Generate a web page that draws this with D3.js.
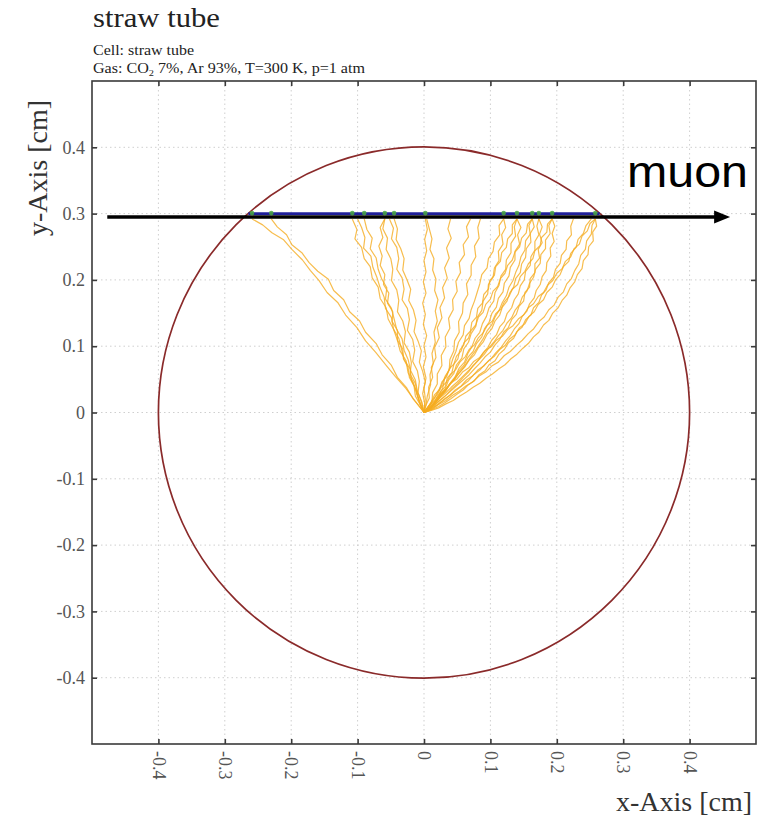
<!DOCTYPE html>
<html>
<head>
<meta charset="utf-8">
<script src="https://cdn.jsdelivr.net/npm/d3@7"></script>
<style>
  html, body { margin: 0; padding: 0; background: #fff; }
  svg { display: block; }
  text { font-family: "Liberation Serif", "Times New Roman", serif; }
</style>
</head>
<body>
<svg id="chart" width="757" height="822"></svg>
<script>
// ---- data (all coordinates in cm) ----
const xTicks = [-0.4, -0.3, -0.2, -0.1, 0, 0.1, 0.2, 0.3, 0.4];
const xTickLabels = ["-0.4", "-0.3", "-0.2", "-0.1", "0", "0.1", "0.2", "0.3", "0.4"];
const yTicks = [-0.4, -0.3, -0.2, -0.1, 0, 0.1, 0.2, 0.3, 0.4];
const yTickLabels = ["-0.4", "-0.3", "-0.2", "-0.1", "0", "0.1", "0.2", "0.3", "0.4"];

const tubeRadius = 0.4;
const wirePosition = [0, 0];

// muon track inside the tube and the arrow showing its direction
const trackY = 0.3;
const trackX = [-0.2646, 0.2646];
const muonArrowY = 0.2949;
const muonArrowX = [-0.477, 0.461];

// ionisation clusters along the track
const clusterX = [-0.259, -0.230, -0.108, -0.090, -0.059, -0.045, 0.002,
                  0.120, 0.140, 0.163, 0.173, 0.193, 0.258];

// electron drift lines, "x,y" points from the track down to the wire
const driftPaths = [
  "-0.259,0.292 -0.243,0.283 -0.229,0.271 -0.212,0.261 -0.199,0.246 -0.183,0.230 -0.171,0.214 -0.158,0.199 -0.146,0.181 -0.130,0.166 -0.118,0.147 -0.101,0.128 -0.088,0.108 -0.073,0.091 -0.057,0.071 -0.043,0.054 -0.027,0.036 -0.014,0.018 0,0",
  "-0.230,0.292 -0.221,0.280 -0.207,0.268 -0.199,0.253 -0.184,0.241 -0.173,0.226 -0.160,0.213 -0.144,0.201 -0.136,0.184 -0.121,0.170 -0.112,0.152 -0.097,0.138 -0.088,0.121 -0.072,0.104 -0.063,0.087 -0.049,0.071 -0.040,0.053 -0.026,0.037 -0.016,0.020 -0.006,0.008 0,0",
  "-0.108,0.292 -0.101,0.276 -0.104,0.262 -0.094,0.249 -0.090,0.232 -0.081,0.220 -0.078,0.203 -0.069,0.189 -0.066,0.172 -0.057,0.158 -0.054,0.141 -0.046,0.126 -0.040,0.109 -0.036,0.093 -0.027,0.078 -0.024,0.060 -0.016,0.045 -0.011,0.028 -0.005,0.013 0,0",
  "-0.100,0.292 -0.094,0.279 -0.089,0.264 -0.091,0.248 -0.080,0.236 -0.077,0.219 -0.071,0.204 -0.066,0.188 -0.060,0.174 -0.058,0.157 -0.049,0.143 -0.046,0.126 -0.038,0.112 -0.034,0.096 -0.030,0.080 -0.021,0.066 -0.019,0.049 -0.012,0.034 -0.008,0.018 0,0",
  "-0.090,0.292 -0.086,0.276 -0.078,0.263 -0.081,0.247 -0.072,0.233 -0.069,0.216 -0.064,0.202 -0.056,0.188 -0.058,0.171 -0.049,0.157 -0.045,0.141 -0.041,0.125 -0.033,0.111 -0.030,0.094 -0.024,0.080 -0.020,0.063 -0.013,0.049 -0.010,0.032 -0.004,0.016 0,0",
  "-0.059,0.292 -0.062,0.277 -0.055,0.263 -0.057,0.246 -0.050,0.232 -0.047,0.216 -0.049,0.199 -0.041,0.185 -0.038,0.169 -0.040,0.152 -0.032,0.138 -0.028,0.122 -0.030,0.105 -0.022,0.091 -0.019,0.075 -0.021,0.058 -0.013,0.044 -0.010,0.028 -0.006,0.013 0,0",
  "-0.052,0.292 -0.046,0.278 -0.049,0.262 -0.041,0.249 -0.038,0.232 -0.041,0.216 -0.033,0.203 -0.030,0.186 -0.033,0.170 -0.025,0.157 -0.022,0.140 -0.025,0.124 -0.017,0.110 -0.014,0.094 -0.017,0.077 -0.010,0.063 -0.007,0.047 -0.009,0.030 -0.003,0.015 0,0",
  "-0.045,0.292 -0.040,0.277 -0.042,0.261 -0.035,0.247 -0.030,0.232 -0.032,0.215 -0.026,0.201 -0.020,0.186 -0.023,0.169 -0.016,0.155 -0.012,0.139 -0.015,0.122 -0.009,0.108 -0.004,0.093 -0.007,0.076 -0.002,0.062 0.002,0.046 -0.002,0.029 0.001,0.014 0,0",
  "0.002,0.292 0.005,0.276 0.001,0.261 0.004,0.244 0.000,0.229 0.003,0.212 -0.001,0.197 0.003,0.180 -0.002,0.165 0.002,0.148 -0.001,0.133 0.004,0.116 0.000,0.101 0.003,0.084 -0.001,0.069 0.003,0.052 0.000,0.037 0.002,0.020 0,0",
  "0.004,0.292 0.008,0.277 0.012,0.262 0.009,0.246 0.015,0.232 0.013,0.215 0.018,0.201 0.016,0.184 0.021,0.170 0.017,0.153 0.020,0.138 0.015,0.121 0.017,0.106 0.012,0.089 0.014,0.074 0.009,0.057 0.010,0.042 0.005,0.025 0.003,0.011 0,0",
  "0.040,0.292 0.036,0.277 0.041,0.263 0.034,0.248 0.038,0.233 0.031,0.218 0.035,0.203 0.028,0.188 0.031,0.173 0.024,0.158 0.027,0.143 0.020,0.128 0.023,0.113 0.016,0.098 0.018,0.083 0.011,0.068 0.013,0.053 0.007,0.038 0.008,0.022 0.002,0.009 0,0",
  "0.070,0.292 0.064,0.280 0.067,0.265 0.059,0.253 0.061,0.238 0.053,0.226 0.055,0.211 0.048,0.198 0.050,0.183 0.043,0.170 0.044,0.155 0.037,0.142 0.039,0.127 0.032,0.114 0.033,0.099 0.026,0.086 0.027,0.071 0.020,0.058 0.020,0.043 0.013,0.030 0.012,0.016 0.004,0.006 0,0",
  "0.085,0.292 0.081,0.279 0.083,0.263 0.076,0.251 0.078,0.235 0.071,0.222 0.071,0.207 0.064,0.194 0.066,0.178 0.059,0.165 0.058,0.150 0.052,0.137 0.053,0.121 0.046,0.108 0.045,0.093 0.039,0.080 0.038,0.064 0.031,0.051 0.028,0.036 0.020,0.024 0.014,0.012 0.005,0.004 0,0",
  "0.120,0.292 0.113,0.282 0.114,0.268 0.106,0.257 0.104,0.243 0.097,0.232 0.095,0.218 0.087,0.208 0.084,0.194 0.080,0.181 0.076,0.168 0.071,0.155 0.068,0.142 0.061,0.131 0.059,0.117 0.052,0.106 0.048,0.092 0.043,0.080 0.039,0.066 0.032,0.055 0.027,0.042 0.020,0.030 0.014,0.018 0.007,0.008 0,0",
  "0.120,0.292 0.123,0.279 0.117,0.268 0.119,0.254 0.112,0.243 0.113,0.229 0.106,0.218 0.104,0.204 0.097,0.193 0.096,0.179 0.089,0.168 0.087,0.154 0.080,0.143 0.078,0.130 0.071,0.119 0.067,0.106 0.060,0.096 0.057,0.082 0.049,0.072 0.045,0.059 0.037,0.049 0.032,0.036 0.024,0.026 0.017,0.015 0.008,0.006 0,0",
  "0.140,0.292 0.136,0.280 0.138,0.266 0.131,0.255 0.131,0.241 0.124,0.230 0.123,0.216 0.116,0.206 0.113,0.192 0.107,0.181 0.105,0.168 0.098,0.158 0.094,0.145 0.088,0.134 0.084,0.121 0.077,0.112 0.072,0.099 0.066,0.089 0.061,0.076 0.053,0.067 0.047,0.054 0.040,0.045 0.033,0.033 0.024,0.023 0.016,0.013 0.007,0.005 0,0",
  "0.140,0.292 0.146,0.279 0.141,0.268 0.144,0.254 0.137,0.243 0.137,0.230 0.130,0.219 0.128,0.206 0.121,0.195 0.119,0.182 0.112,0.172 0.109,0.159 0.102,0.149 0.098,0.136 0.091,0.126 0.087,0.114 0.079,0.104 0.074,0.092 0.066,0.083 0.060,0.071 0.052,0.062 0.046,0.051 0.038,0.042 0.031,0.031 0.022,0.022 0.014,0.012 0.006,0.004 0,0",
  "0.140,0.292 0.133,0.283 0.133,0.270 0.126,0.262 0.124,0.249 0.117,0.241 0.115,0.228 0.108,0.220 0.106,0.207 0.099,0.199 0.097,0.186 0.090,0.178 0.088,0.165 0.081,0.157 0.079,0.144 0.072,0.136 0.070,0.123 0.063,0.115 0.060,0.102 0.054,0.094 0.051,0.081 0.045,0.073 0.042,0.060 0.035,0.052 0.032,0.039 0.025,0.031 0.021,0.019 0.014,0.011 0.008,0.004 0,0",
  "0.163,0.292 0.158,0.282 0.160,0.269 0.153,0.259 0.152,0.245 0.146,0.235 0.143,0.222 0.138,0.211 0.134,0.199 0.128,0.189 0.124,0.176 0.118,0.166 0.113,0.154 0.107,0.144 0.102,0.132 0.095,0.123 0.089,0.111 0.083,0.102 0.076,0.091 0.069,0.082 0.062,0.071 0.055,0.062 0.047,0.052 0.040,0.043 0.032,0.033 0.024,0.024 0.016,0.015 0.007,0.006 0,0",
  "0.163,0.292 0.166,0.280 0.160,0.270 0.161,0.257 0.154,0.247 0.153,0.234 0.147,0.224 0.145,0.211 0.138,0.202 0.135,0.189 0.129,0.180 0.125,0.168 0.118,0.159 0.114,0.147 0.107,0.138 0.102,0.126 0.095,0.118 0.089,0.106 0.082,0.098 0.076,0.087 0.068,0.079 0.061,0.068 0.053,0.060 0.046,0.050 0.038,0.042 0.030,0.032 0.022,0.024 0.014,0.014 0.006,0.006 0,0",
  "0.163,0.292 0.156,0.284 0.154,0.271 0.147,0.263 0.144,0.250 0.137,0.242 0.133,0.230 0.126,0.222 0.122,0.210 0.115,0.202 0.111,0.190 0.104,0.183 0.100,0.171 0.093,0.163 0.089,0.151 0.082,0.144 0.078,0.132 0.071,0.124 0.067,0.112 0.060,0.105 0.056,0.093 0.049,0.085 0.045,0.073 0.038,0.066 0.034,0.054 0.027,0.046 0.023,0.034 0.016,0.027 0.011,0.015 0.005,0.007 0,0",
  "0.173,0.292 0.170,0.281 0.173,0.268 0.167,0.258 0.167,0.245 0.161,0.235 0.160,0.222 0.153,0.213 0.151,0.200 0.145,0.191 0.142,0.179 0.136,0.170 0.132,0.158 0.125,0.149 0.121,0.137 0.114,0.129 0.109,0.117 0.102,0.109 0.096,0.098 0.089,0.090 0.082,0.079 0.074,0.071 0.067,0.061 0.059,0.053 0.051,0.044 0.042,0.036 0.034,0.027 0.025,0.019 0.016,0.011 0.007,0.004 0,0",
  "0.173,0.292 0.178,0.280 0.174,0.269 0.178,0.256 0.172,0.246 0.174,0.233 0.167,0.224 0.167,0.211 0.160,0.202 0.159,0.189 0.152,0.181 0.150,0.168 0.143,0.160 0.139,0.148 0.132,0.140 0.127,0.128 0.120,0.121 0.114,0.110 0.107,0.102 0.100,0.091 0.092,0.084 0.084,0.074 0.076,0.066 0.068,0.057 0.059,0.049 0.050,0.041 0.041,0.033 0.032,0.025 0.022,0.017 0.013,0.009 0.005,0.003 0,0",
  "0.193,0.292 0.188,0.282 0.190,0.270 0.183,0.260 0.183,0.247 0.176,0.238 0.175,0.225 0.168,0.216 0.165,0.204 0.159,0.195 0.155,0.183 0.148,0.174 0.144,0.163 0.137,0.154 0.132,0.143 0.125,0.135 0.119,0.124 0.112,0.116 0.105,0.106 0.098,0.098 0.091,0.088 0.083,0.080 0.075,0.071 0.067,0.063 0.058,0.054 0.050,0.046 0.041,0.038 0.032,0.029 0.023,0.021 0.014,0.012 0.006,0.005 0,0",
  "0.193,0.292 0.197,0.281 0.193,0.270 0.196,0.258 0.190,0.248 0.191,0.236 0.185,0.226 0.184,0.214 0.178,0.205 0.175,0.193 0.169,0.184 0.166,0.173 0.159,0.164 0.155,0.153 0.148,0.145 0.143,0.134 0.136,0.126 0.130,0.116 0.123,0.108 0.116,0.098 0.108,0.090 0.101,0.081 0.092,0.073 0.084,0.064 0.075,0.057 0.067,0.048 0.058,0.041 0.048,0.033 0.039,0.026 0.029,0.018 0.019,0.011 0.009,0.004 0,0",
  "0.193,0.292 0.186,0.284 0.185,0.272 0.177,0.264 0.175,0.252 0.167,0.244 0.164,0.232 0.157,0.224 0.152,0.213 0.145,0.205 0.141,0.193 0.133,0.186 0.128,0.175 0.121,0.167 0.116,0.156 0.108,0.149 0.103,0.138 0.095,0.131 0.089,0.120 0.082,0.113 0.076,0.102 0.068,0.095 0.062,0.084 0.054,0.076 0.048,0.065 0.040,0.057 0.034,0.046 0.026,0.038 0.020,0.027 0.012,0.018 0.006,0.008 0,0",
  "0.225,0.292 0.221,0.281 0.222,0.268 0.215,0.259 0.214,0.246 0.207,0.237 0.205,0.225 0.198,0.216 0.195,0.204 0.188,0.196 0.184,0.185 0.177,0.177 0.173,0.166 0.165,0.158 0.161,0.147 0.153,0.140 0.148,0.129 0.140,0.122 0.135,0.112 0.127,0.105 0.121,0.095 0.113,0.088 0.107,0.078 0.098,0.072 0.092,0.063 0.083,0.057 0.076,0.048 0.067,0.042 0.059,0.034 0.050,0.028 0.041,0.021 0.032,0.015 0.022,0.009 0.011,0.004 0,0",
  "0.252,0.292 0.244,0.282 0.240,0.270 0.232,0.261 0.229,0.249 0.221,0.240 0.218,0.228 0.210,0.220 0.205,0.208 0.198,0.200 0.193,0.189 0.185,0.181 0.180,0.170 0.172,0.163 0.166,0.152 0.158,0.145 0.152,0.134 0.144,0.128 0.137,0.117 0.129,0.111 0.122,0.101 0.114,0.095 0.106,0.085 0.098,0.079 0.090,0.070 0.081,0.064 0.073,0.055 0.064,0.049 0.056,0.040 0.047,0.034 0.039,0.026 0.030,0.020 0.021,0.012 0.011,0.006 0,0",
  "0.258,0.292 0.253,0.282 0.252,0.269 0.245,0.259 0.243,0.246 0.236,0.237 0.233,0.224 0.227,0.214 0.222,0.202 0.215,0.194 0.210,0.182 0.202,0.174 0.196,0.162 0.188,0.155 0.181,0.144 0.173,0.137 0.165,0.126 0.157,0.119 0.148,0.109 0.140,0.102 0.130,0.092 0.121,0.086 0.112,0.076 0.102,0.070 0.093,0.061 0.083,0.055 0.073,0.046 0.063,0.040 0.053,0.032 0.043,0.026 0.033,0.018 0.022,0.012 0.012,0.005 0,0",
  "0.258,0.292 0.250,0.285 0.246,0.274 0.238,0.266 0.234,0.254 0.226,0.247 0.221,0.235 0.213,0.228 0.208,0.217 0.200,0.210 0.194,0.199 0.186,0.192 0.180,0.181 0.172,0.175 0.165,0.164 0.157,0.158 0.150,0.147 0.142,0.141 0.134,0.131 0.126,0.125 0.118,0.115 0.109,0.109 0.101,0.099 0.092,0.093 0.084,0.083 0.075,0.077 0.067,0.067 0.058,0.061 0.050,0.051 0.041,0.045 0.033,0.035 0.024,0.028 0.016,0.018 0.008,0.010 0,0",
  "0.258,0.292 0.260,0.281 0.254,0.272 0.255,0.259 0.248,0.250 0.247,0.238 0.240,0.229 0.238,0.217 0.231,0.208 0.227,0.197 0.220,0.188 0.215,0.177 0.208,0.169 0.202,0.158 0.194,0.150 0.188,0.139 0.180,0.132 0.173,0.121 0.165,0.114 0.157,0.104 0.149,0.097 0.140,0.088 0.131,0.081 0.122,0.072 0.113,0.066 0.103,0.058 0.094,0.052 0.084,0.044 0.074,0.038 0.064,0.031 0.054,0.025 0.044,0.018 0.033,0.013 0.022,0.007 0.011,0.003 0,0",
  "-0.059,0.292 -0.066,0.279 -0.062,0.264 -0.068,0.251 -0.063,0.236 -0.066,0.222 -0.059,0.208 -0.061,0.193 -0.053,0.180 -0.055,0.165 -0.047,0.152 -0.048,0.137 -0.040,0.124 -0.040,0.109 -0.032,0.096 -0.031,0.081 -0.024,0.068 -0.022,0.053 -0.015,0.040 -0.013,0.025 -0.006,0.012 0,0"
];

const titleText = "straw tube";
const cellText = "Cell: straw tube";
const xAxisTitle = "x-Axis [cm]";
const yAxisTitle = "y-Axis [cm]";
const particleLabel = "muon";

// ---- layout ----
const svg = d3.select("#chart");
const plot = { left: 92, right: 756, top: 81, bottom: 744 };

const x = d3.scaleLinear().domain([-0.5, 0.5]).range([plot.left, plot.right]);
const y = d3.scaleLinear().domain([-0.5, 0.5]).range([plot.bottom, plot.top]);

// dotted grid
const grid = svg.append("g").attr("stroke", "#cfcfcf").attr("stroke-width", 1)
  .attr("stroke-dasharray", "1.5,3");
grid.selectAll("line.gx").data(xTicks).join("line")
  .attr("x1", d => x(d)).attr("x2", d => x(d))
  .attr("y1", plot.top).attr("y2", plot.bottom);
grid.selectAll("line.gy").data(yTicks).join("line")
  .attr("y1", d => y(d)).attr("y2", d => y(d))
  .attr("x1", plot.left).attr("x2", plot.right);

// tube wall
svg.append("circle")
  .attr("cx", x(wirePosition[0])).attr("cy", y(wirePosition[1]))
  .attr("r", x(tubeRadius) - x(0))
  .attr("fill", "none").attr("stroke", "#8a2a2a").attr("stroke-width", 1.7);

// electron drift lines
const paths = driftPaths.map(s => s.trim().split(/\s+/).map(p => p.split(",").map(Number)));
const line = d3.line().x(d => x(d[0])).y(d => y(d[1]));
svg.append("g")
  .selectAll("path").data(paths).join("path")
  .attr("d", line)
  .attr("fill", "none")
  .attr("stroke", "#f5ac22")
  .attr("stroke-opacity", 0.8)
  .attr("stroke-width", 1.2)
  .attr("stroke-linejoin", "round");

// muon arrow (under the track)
const arrowHead = 16, arrowHalf = 6.5;
const ax0 = x(muonArrowX[0]), ax1 = x(muonArrowX[1]), ay = y(muonArrowY);
svg.append("line")
  .attr("x1", ax0).attr("x2", ax1 - arrowHead + 2)
  .attr("y1", ay).attr("y2", ay)
  .attr("stroke", "#000").attr("stroke-width", 3.4);
svg.append("path")
  .attr("d", `M${ax1},${ay} L${ax1 - arrowHead},${ay - arrowHalf} L${ax1 - arrowHead},${ay + arrowHalf} Z`)
  .attr("fill", "#000");

// track segment inside the gas
svg.append("line")
  .attr("x1", x(trackX[0])).attr("x2", x(trackX[1]))
  .attr("y1", y(trackY)).attr("y2", y(trackY))
  .attr("stroke", "#1f1f9a").attr("stroke-width", 2.6);

// clusters
svg.append("g").selectAll("circle").data(clusterX).join("circle")
  .attr("cx", d => x(d)).attr("cy", y(trackY) - 0.5)
  .attr("r", 2.3)
  .attr("fill", "#49a83e").attr("fill-opacity", 0.85);

// frame
svg.append("rect")
  .attr("x", plot.left).attr("y", plot.top)
  .attr("width", plot.right - plot.left).attr("height", plot.bottom - plot.top)
  .attr("fill", "none").attr("stroke", "#3a3a3a").attr("stroke-width", 1.6);

// axes with inward ticks
const tickColor = "#3a3a3a";
function styleAxis(g) {
  g.select(".domain").remove();
  g.selectAll(".tick line").attr("stroke", tickColor).attr("stroke-width", 1.6);
  g.selectAll(".tick text").attr("fill", "#555")
    .style("font-family", '"Liberation Serif", "Times New Roman", serif')
    .style("font-size", "18px");
}

const xFmt = d => xTickLabels[xTicks.indexOf(d)];
const yFmt = d => yTickLabels[yTicks.indexOf(d)];

const gx = svg.append("g").attr("transform", `translate(0,${plot.bottom})`)
  .call(d3.axisBottom(x).tickValues(xTicks).tickFormat(xFmt).tickSize(-5))
  .call(styleAxis);
gx.selectAll(".tick text")
  .attr("transform", "rotate(90)")
  .attr("x", 7).attr("y", 0).attr("dy", "0.35em")
  .attr("text-anchor", "start");

svg.append("g").attr("transform", `translate(0,${plot.top})`)
  .call(d3.axisTop(x).tickValues(xTicks).tickFormat("").tickSize(-5))
  .call(styleAxis);

svg.append("g").attr("transform", `translate(${plot.left},0)`)
  .call(d3.axisLeft(y).tickValues(yTicks).tickFormat(yFmt).tickSize(-5).tickPadding(7))
  .call(styleAxis);

svg.append("g").attr("transform", `translate(${plot.right},0)`)
  .call(d3.axisRight(y).tickValues(yTicks).tickFormat("").tickSize(-5))
  .call(styleAxis);

// titles
svg.append("text").attr("x", 93).attr("y", 27)
  .attr("font-size", 28).attr("fill", "#222")
  .attr("textLength", 127).attr("lengthAdjust", "spacingAndGlyphs")
  .text(titleText);

svg.append("text").attr("x", 93).attr("y", 55)
  .attr("font-size", 14).attr("fill", "#222")
  .attr("textLength", 101).attr("lengthAdjust", "spacingAndGlyphs")
  .text(cellText);

const gas = svg.append("text").attr("x", 93).attr("y", 73)
  .attr("font-size", 14).attr("fill", "#222")
  .attr("textLength", 272).attr("lengthAdjust", "spacingAndGlyphs");
gas.append("tspan").text("Gas: CO");
gas.append("tspan").attr("font-size", 9).attr("dy", 3).text("2");
gas.append("tspan").attr("dy", -3).text(" 7%, Ar 93%, T=300 K, p=1 atm");

svg.append("text")
  .attr("x", 752).attr("y", 811)
  .attr("text-anchor", "end")
  .attr("font-size", 28).attr("fill", "#333")
  .text(xAxisTitle);

svg.append("text")
  .attr("transform", "translate(47,100) rotate(-90)")
  .attr("text-anchor", "end")
  .attr("font-size", 28).attr("fill", "#333")
  .text(yAxisTitle);

// particle label
svg.append("text")
  .attr("x", 627).attr("y", 187)
  .attr("font-size", 44).attr("fill", "#000")
  .style("font-family", '"Liberation Sans", Arial, sans-serif')
  .attr("textLength", 121).attr("lengthAdjust", "spacingAndGlyphs")
  .text(particleLabel);
</script>
</body>
</html>
